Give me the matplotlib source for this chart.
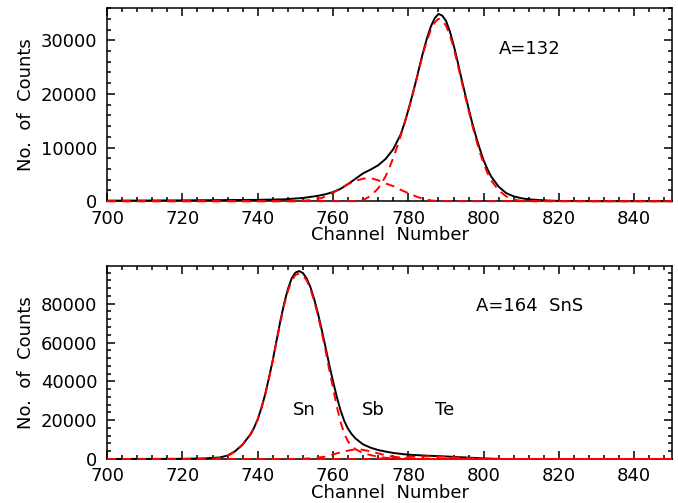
import numpy as np
import matplotlib
matplotlib.use('Agg')
import matplotlib.pyplot as plt
from matplotlib.ticker import MultipleLocator, FormatStrFormatter

# A=132 spectrum: total fit and its two components
ch_a = [700, 720, 740, 747, 752, 756, 758, 760, 762, 764, 766, 768, 770, 772,
        774, 776, 778, 779, 780, 781, 782, 783, 784, 785, 786, 787, 788, 789,
        790, 791, 792, 793, 794, 795, 796, 797, 798, 799, 800, 801, 802, 804,
        806, 808, 810, 812, 816, 820, 830, 850]
tot_a = [100, 150, 250, 350, 600, 1000, 1300, 1700, 2300, 3200, 4200, 5200,
         5900, 6700, 7900, 9700, 12500, 14600, 17000, 19600, 22300, 25200,
         28000, 30500, 32600, 34100, 34900, 34600, 33600, 31700, 29200, 26300,
         23200, 20200, 17300, 14500, 12000, 9700, 7600, 6000, 4600, 2700, 1500,
         900, 550, 350, 150, 50, 0, 0]

ch_a1 = [700, 766, 768, 770, 772, 773, 774, 775, 776, 777, 778, 779, 780, 781,
         782, 783, 784, 785, 786, 787, 788, 789, 790, 791, 792, 793, 794, 795,
         796, 797, 798, 799, 800, 801, 802, 804, 806, 808, 810, 812, 850]
pk_a1 = [0, 0, 200, 1000, 2400, 3500, 4700, 6300, 8100, 10100, 12300, 14500,
         16900, 19500, 22200, 25000, 27800, 30000, 32000, 33300, 34000, 33700,
         32700, 31000, 28700, 25800, 22800, 19800, 16900, 14100, 11500, 9100,
         7000, 5300, 3900, 2000, 900, 300, 50, 0, 0]

ch_a2 = [700, 750, 754, 757, 760, 762, 764, 766, 768, 770, 772, 774, 776, 778,
         780, 782, 784, 786, 788, 850]
pk_a2 = [0, 0, 200, 600, 1600, 2400, 3200, 3800, 4200, 4300, 3900, 3300, 2800,
         2100, 1500, 900, 400, 150, 0, 0]

# A=164 SnS spectrum: total fit and Sn, Sb, Te components
ch_b = [700, 720, 726, 730, 732, 734, 736, 738, 739, 740, 741, 742, 743, 744,
        745, 746, 747, 748, 749, 750, 751, 752, 753, 754, 755, 756, 757, 758,
        759, 760, 761, 762, 763, 764, 765, 766, 768, 770, 772, 774, 776, 780,
        785, 790, 795, 800, 805, 850]
tot_b = [0, 100, 300, 800, 1800, 4000, 7500, 12500, 16000, 20500, 26500,
         33500, 42000, 51000, 61000, 71000, 80000, 87500, 93000, 96000, 96800,
         95800, 93000, 88500, 82300, 75000, 66500, 57700, 48500, 40000, 32000,
         25000, 19500, 15500, 12700, 10500, 7500, 5800, 4600, 3800, 3100, 2200,
         1700, 1300, 800, 300, 0, 0]

ch_sn = [700, 724, 728, 730, 732, 734, 736, 738, 739, 740, 741, 742, 743, 744,
         745, 746, 747, 748, 749, 750, 751, 752, 753, 754, 755, 756, 757, 758,
         759, 760, 761, 762, 763, 764, 765, 766, 768, 770, 772, 774, 776, 778,
         780, 850]
pk_sn = [0, 0, 200, 600, 1600, 3800, 7300, 12300, 15800, 20300, 26200, 33200,
         41600, 50500, 60500, 70300, 79200, 86500, 91800, 94800, 95500, 94600,
         92000, 87500, 81300, 74000, 65200, 56000, 46000, 36500, 27000, 19000,
         13000, 9000, 6700, 5000, 3000, 2000, 1100, 600, 250, 50, 0, 0]

ch_sb = [700, 750, 754, 758, 761, 763, 765, 767, 769, 771, 773, 775, 777, 779,
         781, 783, 850]
pk_sb = [0, 0, 300, 1200, 2900, 3900, 4700, 5000, 4300, 3400, 2400, 1600, 900,
         450, 100, 0, 0]

ch_te = [700, 770, 774, 777, 780, 783, 786, 789, 792, 795, 798, 801, 804, 850]
pk_te = [0, 0, 300, 700, 1100, 1300, 1350, 1250, 900, 550, 250, 80, 0, 0]

plt.rcParams['font.family'] = 'DejaVu Sans'
plt.rcParams['font.size'] = 13

fig = plt.figure(figsize=(6.78, 5.03), dpi=100)
ax1 = fig.add_axes([0.158, 0.600, 0.833, 0.384])
ax2 = fig.add_axes([0.158, 0.0875, 0.833, 0.384])

dash = (0, (4.5, 3.2))
black = dict(c='k', lw=1.4, zorder=3, clip_on=False)
red = dict(c='red', lw=1.4, ls=dash, zorder=4, clip_on=False)

ax1.plot(ch_a, tot_a, **black)
ax1.plot(ch_a1, pk_a1, **red)
ax1.plot(ch_a2, pk_a2, **red)

ax2.plot(ch_b, tot_b, **black)
ax2.plot(ch_sn, pk_sn, **red)
ax2.plot(ch_sb, pk_sb, **red)
ax2.plot(ch_te, pk_te, **red)

ax1.set_ylim(0, 36000)
ax2.set_ylim(0, 99500)
ax1.yaxis.set_major_locator(MultipleLocator(10000))
ax1.yaxis.set_minor_locator(MultipleLocator(2000))
ax2.yaxis.set_major_locator(MultipleLocator(20000))
ax2.yaxis.set_minor_locator(MultipleLocator(4000))

for ax in (ax1, ax2):
    ax.set_xlim(700, 850)
    ax.xaxis.set_major_locator(MultipleLocator(20))
    ax.xaxis.set_minor_locator(MultipleLocator(4))
    ax.yaxis.set_major_formatter(FormatStrFormatter('%d'))
    ax.tick_params(which='both', direction='in', top=True, right=True, width=1.1)
    ax.tick_params(which='major', length=6)
    ax.tick_params(which='minor', length=3)
    ax.tick_params(axis='x', pad=6)
    ax.tick_params(axis='y', pad=7)
    for s in ax.spines.values():
        s.set_linewidth(1.1)
    ax.set_xlabel('Channel  Number', labelpad=-1)
    ax.set_ylabel('No.  of  Counts', labelpad=4)

ax1.text(804, 28400, 'A=132', va='center')
ax2.text(798, 78900, 'A=164  SnS', va='center')
ax2.text(752.4, 25400, 'Sn', ha='center', va='center')
ax2.text(770.8, 25400, 'Sb', ha='center', va='center')
ax2.text(789.6, 25400, 'Te', ha='center', va='center')

fig.savefig('out.png', dpi=100)
